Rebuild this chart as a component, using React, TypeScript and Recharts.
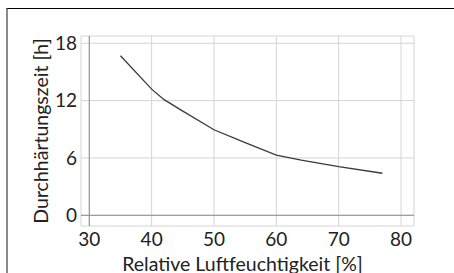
import { LineChart, Line, CartesianGrid, XAxis, YAxis, ReferenceLine } from "recharts";

// relative Luftfeuchtigkeit [%] und Durchhärtungszeit [h]
const humidity = [35, 40, 42, 45, 50, 55, 60, 64, 67, 70, 77];
const hours = [16.7, 13.2, 12.1, 10.9, 8.95, 7.6, 6.3, 5.78, 5.44, 5.09, 4.4];

const xTicks = [30, 40, 50, 60, 70, 80];
const yTicks = [0, 6, 12, 18];

const data = humidity.map((h, i) => ({ rh: h, t: hours[i] }));

const font = "Lato, 'Open Sans', sans-serif";

export default function App() {
  return (
    <div style={{ position: "absolute", left: 0, top: 0, width: 454, height: 273, overflow: "hidden", background: "white" }}>
      <div
        style={{
          position: "absolute",
          left: 6,
          top: 8,
          right: -10,
          bottom: -10,
          borderTop: "1px solid #000",
          borderLeft: "2px solid #8a8a8a",
        }}
      />
      <div style={{ position: "absolute", left: 0, top: 0 }}>
        <LineChart width={454} height={273} data={data} margin={{ top: 36, right: 40, bottom: 0, left: 0 }}>
          <CartesianGrid stroke="#d4d4d4" strokeWidth={1} />
          <XAxis
            dataKey="rh"
            type="number"
            domain={[28.67, 82.08]}
            ticks={xTicks}
            allowDataOverflow
            height={47}
            axisLine={false}
            tickLine={false}
            tickSize={0}
            tickMargin={7}
            tick={{ fill: "#222", fontSize: 19, fontFamily: font }}
            label={{
              value: "Relative Luftfeuchtigkeit [%]",
              position: "insideBottom",
              offset: 2,
              dx: -5,
              fill: "#222",
              fontSize: 19.5,
              fontFamily: font,
            }}
          />
          <YAxis
            type="number"
            domain={[-1.12, 18.76]}
            ticks={yTicks}
            allowDataOverflow
            width={81}
            axisLine={false}
            tickLine={false}
            tickSize={0}
            tickMargin={4}
            tick={{ fill: "#222", fontSize: 19, fontFamily: font }}
            label={{
              value: "Durchhärtungszeit [h]",
              angle: -90,
              position: "insideLeft",
              offset: 41,
              fill: "#222",
              fontSize: 19.5,
              fontFamily: font,
              style: { textAnchor: "middle" },
            }}
          />
          <ReferenceLine y={0} stroke="#8c8c8c" strokeWidth={1} />
          <ReferenceLine x={30} stroke="#8c8c8c" strokeWidth={1} />
          <Line
            type="linear"
            dataKey="t"
            stroke="#3a3a3a"
            strokeWidth={1.3}
            dot={false}
            isAnimationActive={false}
          />
        </LineChart>
      </div>
    </div>
  );
}
